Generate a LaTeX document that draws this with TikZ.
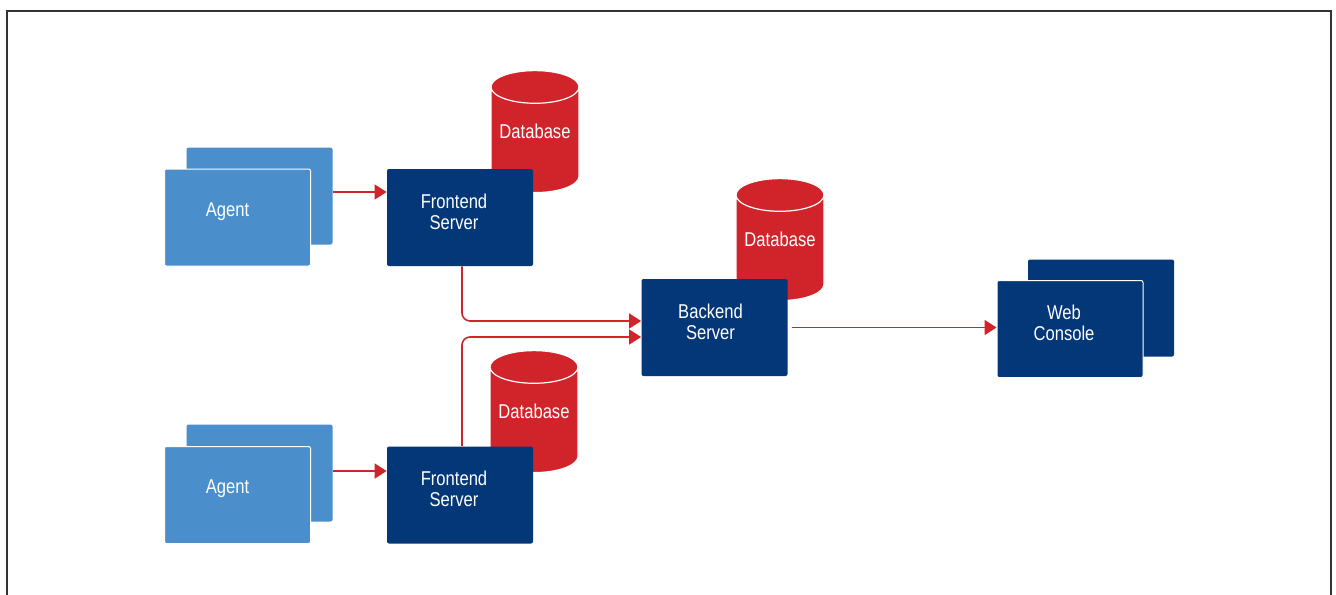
\documentclass[tikz,border=0pt]{standalone}
\usepackage{fontspec}
\setmainfont{Liberation Sans}[FakeStretch=0.83]
\usetikzlibrary{shapes.geometric,arrows.meta,positioning}

\definecolor{agentblue}{HTML}{4A8FCB}
\definecolor{navy}{HTML}{033778}
\definecolor{dbred}{HTML}{D1232A}
\definecolor{framegray}{HTML}{333333}

\tikzset{
  block/.style={rectangle, rounded corners=1pt, minimum width=73pt, minimum height=48.5pt},
  boxtext/.style={text=white, align=center, inner sep=0pt, xshift=-3pt, yshift=3pt,
    font=\fontsize{10}{10.5}\selectfont},
  agent/.style={block, fill=agentblue},
  server/.style={block, fill=navy},
  front/.style={draw=white, line width=0.5pt},
  db/.style={cylinder, shape border rotate=90, aspect=0.46, fill=dbred, draw=white,
    line width=0.6pt, minimum width=44pt, minimum height=61pt, inner sep=0pt,
    text depth=9pt, text=white, font=\fontsize{10}{10.5}\selectfont},
  line/.style={draw=dbred, line width=0.8pt, -{Triangle[length=6pt,width=7.5pt]}},
}

\begin{document}
\begin{tikzpicture}[x=0.5pt, y=-0.5pt]
    \clip (0,0) rectangle (1336,594);
    \fill[white] (0,0) rectangle (1336,594);
    \draw[framegray, line width=1.25pt] (7,11) rectangle (1331,640);

    % databases sit behind the servers
    \node [db, anchor=north] (dbA) at (535,70) {Database};
    \node [db, anchor=north] (dbB) at (534,350) {Database};
    \node [db, anchor=north] (dbC) at (780,178) {Database};

    \node [agent] (agentAback) at (259.5,196) {};
    \node [agent, front, label={[boxtext, xshift=-2pt]center:Agent}] (agentA) at (237.5,217.5) {};
    \node [server, label={[boxtext]center:Frontend\\Server}] (frontendA) at (460,217.5) {};

    \node [agent] (agentBback) at (259.5,473) {};
    \node [agent, front, label={[boxtext, xshift=-2pt]center:Agent}] (agentB) at (237.5,495) {};
    \node [server, label={[boxtext]center:Frontend\\Server}] (frontendB) at (460,495) {};

    \node [server, label={[boxtext, xshift=1pt]center:Backend\\Server}] (backend) at (714.5,327.5) {};

    \node [server] (webback) at (1101,308) {};
    \node [server, front, label={[boxtext]center:Web\\Console}] (web) at (1070,329) {};

    \coordinate (outA) at ([yshift=2pt]agentAback.east);
    \coordinate (outB) at ([yshift=1pt]agentBback.east);
    \coordinate (inA) at ([yshift=3.25pt]backend.west);
    \coordinate (inB) at ([yshift=-4.75pt]backend.west);

    \path [line] (outA) -- (outA -| frontendA.west);
    \path [line] (outB) -- (outB -| frontendB.west);
    \path [line, rounded corners=4pt] ([xshift=1pt]frontendA.south) |- (inA);
    \path [line, rounded corners=4pt] ([xshift=1pt]frontendB.north) |- (inB);
    \path [line, shorten <=2pt] (backend.east) -- (backend.east -| web.west);
\end{tikzpicture}
\end{document}
